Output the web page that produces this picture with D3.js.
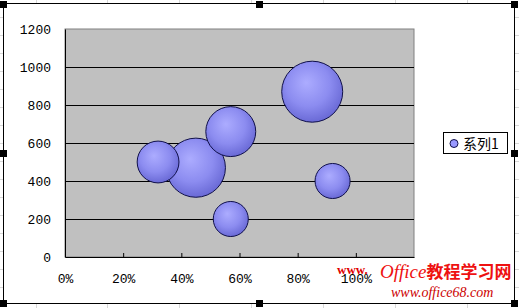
<!DOCTYPE html>
<html>
<head>
<meta charset="utf-8">
<script src="https://cdn.jsdelivr.net/npm/d3@7"></script>
<style>
  body { margin: 0; background: #fff; }
</style>
</head>
<body>
<div id="chart"></div>
<script>
// bubble data
const xValues = [0.32, 0.45, 0.57, 0.57, 0.85, 0.92];
const yValues = [500, 470, 660, 200, 870, 400];
const sizes = [47, 94, 67, 33, 100, 33];
const seriesName = "系列1";
const yTicks = [0, 200, 400, 600, 800, 1000, 1200];
const xTicks = [0, 0.2, 0.4, 0.6, 0.8, 1.0];

const W = 519, H = 308;
const margin = { top: 29, right: 105, bottom: 51, left: 65 };
const width = W - margin.left - margin.right;
const height = H - margin.top - margin.bottom;

const svg = d3.select("#chart").append("svg")
    .attr("width", W)
    .attr("height", H);

// faint spreadsheet grid behind the chart object
const sheet = svg.append("g").attr("stroke", "#d8d8d8").attr("stroke-width", 1);
[36, 107, 179, 251, 323, 395, 467].forEach(x => {
    sheet.append("line").attr("x1", x + 0.5).attr("x2", x + 0.5).attr("y1", 0).attr("y2", H);
});
[17, 35, 53, 71, 89, 107, 125, 143, 161, 179, 197, 215, 233, 251, 269, 287].forEach(y => {
    sheet.append("line").attr("x1", 0).attr("x2", W).attr("y1", y + 0.5).attr("y2", y + 0.5);
});

// chart area
svg.append("rect")
    .attr("x", 3.5).attr("y", 3.5)
    .attr("width", 511).attr("height", 300)
    .attr("fill", "#fff")
    .attr("stroke", "#000");

const defs = svg.append("defs");
const grad = defs.append("radialGradient")
    .attr("id", "bubble")
    .attr("cx", "45%").attr("cy", "40%").attr("r", "60%")
    .attr("fx", "40%").attr("fy", "35%");
grad.append("stop").attr("offset", "0%").attr("stop-color", "#acacff");
grad.append("stop").attr("offset", "60%").attr("stop-color", "#8c8cf0");
grad.append("stop").attr("offset", "100%").attr("stop-color", "#6a6ad6");

const g = svg.append("g")
    .attr("transform", "translate(" + margin.left + "," + margin.top + ")");

// scales
const x = d3.scaleLinear().domain([0, 1.2]).range([0, width]);
const y = d3.scaleLinear().domain([0, 1200]).range([height, 0]);
const r = d3.scaleSqrt().domain([0, 100]).range([0, 30.5]);

// plot area
g.append("rect")
    .attr("width", width).attr("height", height)
    .attr("fill", "#c0c0c0")
    .attr("stroke", "#808080");

// gridlines
g.selectAll(".grid")
    .data(yTicks.slice(1, -1))
    .enter().append("line")
    .attr("x1", 0).attr("x2", width)
    .attr("y1", d => Math.round(y(d)) + 0.5)
    .attr("y2", d => Math.round(y(d)) + 0.5)
    .attr("stroke", "#000");

// axes
const xAxis = d3.axisBottom(x)
    .tickValues(xTicks)
    .tickFormat(d3.format(".0%"))
    .tickSizeInner(-4).tickSizeOuter(0).tickPadding(17);
const yAxis = d3.axisLeft(y)
    .tickValues(yTicks)
    .tickFormat(d3.format("d"))
    .tickSize(0).tickPadding(14);

const xg = g.append("g")
    .attr("transform", "translate(0," + height + ")")
    .call(xAxis);
const yg = g.append("g").call(yAxis);

[xg, yg].forEach(a => {
    a.select(".domain").attr("stroke", "#000");
    a.selectAll("text")
        .style("font-size", "13px")
        .style("font-family", "'Liberation Mono', 'DejaVu Sans Mono', monospace")
        .attr("fill", "#000");
    a.selectAll("line").attr("stroke", "#000");
});
yg.selectAll("text").attr("dy", "0.35em");

// bubbles, largest first so smaller ones sit on top
const data = xValues.map((d, i) => ({ x: d, y: yValues[i], size: sizes[i] }))
    .sort((a, b) => b.size - a.size);

g.selectAll(".bubble")
    .data(data)
    .enter().append("circle")
    .attr("class", "bubble")
    .attr("cx", d => x(d.x))
    .attr("cy", d => y(d.y))
    .attr("r", d => r(d.size))
    .attr("fill", "url(#bubble)")
    .attr("stroke", "#10104a")
    .attr("stroke-width", 1);

// legend
const legend = svg.append("g").attr("transform", "translate(443,132)");
legend.append("rect")
    .attr("x", 0.5).attr("y", 0.5)
    .attr("width", 64).attr("height", 21)
    .attr("fill", "#fff").attr("stroke", "#000");
legend.append("circle")
    .attr("cx", 11).attr("cy", 11.5).attr("r", 4)
    .attr("fill", "#9999ff").attr("stroke", "#10104a");
legend.append("text")
    .attr("x", 20).attr("y", 16.5)
    .style("font-size", "14px")
    .style("font-family", "'Noto Sans CJK SC', sans-serif")
    .text(seriesName);

// selection handles
const handles = [[0, 0], [256, 0], [511, 0], [0, 149], [511, 149], [0, 299], [256, 299], [511, 299]];
svg.selectAll(".handle")
    .data(handles)
    .enter().append("rect")
    .attr("x", d => d[0])
    .attr("y", d => d[1] + 1)
    .attr("width", 7).attr("height", 7)
    .attr("fill", "#000");

// site watermark
svg.append("text")
    .attr("x", 337).attr("y", 274)
    .style("font-size", "13px").style("font-weight", "bold")
    .style("font-family", "'Liberation Serif', serif")
    .attr("fill", "#e00000")
    .text("www.");
const wm = svg.append("text")
    .attr("x", 380).attr("y", 278)
    .attr("fill", "#ee1111");
wm.append("tspan")
    .style("font-size", "19px").style("font-style", "italic")
    .style("font-family", "'Liberation Serif', serif")
    .text("Office");
wm.append("tspan")
    .style("font-size", "17px").style("font-weight", "bold")
    .style("font-family", "'Noto Sans CJK SC', sans-serif")
    .text("教程学习网");
svg.append("text")
    .attr("x", 391).attr("y", 297)
    .style("font-size", "14px").style("font-style", "italic")
    .style("font-family", "'Liberation Serif', serif")
    .attr("fill", "#cc0000")
    .text("www.office68.com");
</script>
</body>
</html>
